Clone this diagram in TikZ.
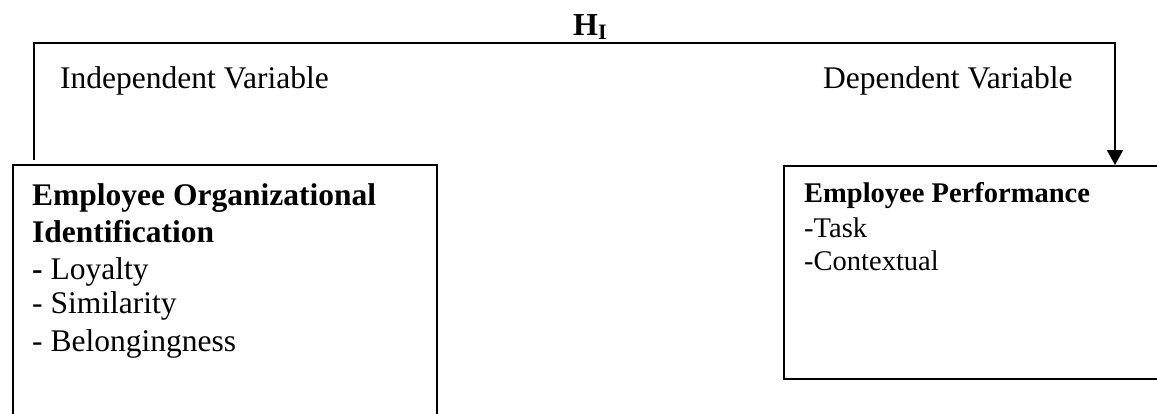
\documentclass[tikz,border=0pt]{standalone}
\usepackage{fontspec}
\setmainfont{Liberation Serif}
\usetikzlibrary{arrows.meta}
\tikzset{
  box/.style={draw, line width=2pt, rectangle, inner sep=0pt, anchor=north west},
  conn/.style={draw, line width=2pt, -{Triangle[length=15pt,width=16pt]}},
  lbl/.style={anchor=base west, inner sep=0pt},
  big/.style={font=\fontsize{31.5}{36}\selectfont},
  small/.style={font=\fontsize{28.5}{33}\selectfont},
}
\begin{document}
\begin{tikzpicture}[x=1pt,y=-1pt]
\useasboundingbox (0,0) rectangle (1157,413);
\clip (0,0) rectangle (1157,413);
% boxes
\node[box, minimum width=424pt, minimum height=290pt] (lbox) at (12,164) {};
\node[box, minimum width=400pt, minimum height=213pt] (rbox) at (783,165) {};
% left box text
\node[lbl, big] (l1) at (32,205) {\bfseries Employee Organizational};
\node[lbl, big] (l2) at (32,242) {\bfseries Identification};
\node[lbl, big] (l3) at (32,279) {\textbf{-} Loyalty};
\node[lbl, big] (l4) at (32,313) {- Similarity};
\node[lbl, big] (l5) at (32,351) {- Belongingness};
% right box text
\node[lbl, small] (r1) at (804,202) {\bfseries Employee Performance};
\node[lbl, small] (r2) at (804,237) {-Task};
\node[lbl, small] (r3) at (804,270) {-Contextual};
% labels
\node[lbl, big] (iv) at (60,88) {Independent Variable};
\node[lbl, big] (dv) at (823,88) {Dependent Variable};
\node[lbl] (h) at (573,35) {{\fontsize{32}{36}\selectfont\bfseries H}{\fontsize{22}{26}\selectfont\raisebox{-4pt}{\bfseries I}}};
% connector
\coordinate (corner) at (1115,43);
\draw[conn] ([xshift=22pt,yshift=4pt]lbox.north west) |- (corner) -- (corner |- rbox.north);
\end{tikzpicture}
\end{document}
